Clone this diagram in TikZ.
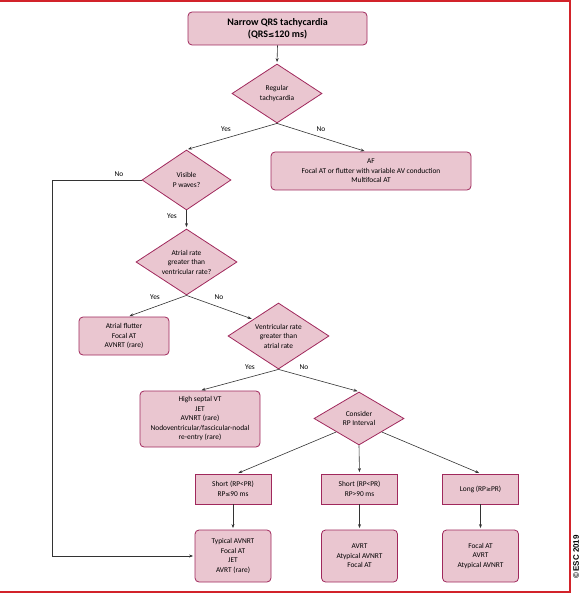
\documentclass[tikz,border=0pt]{standalone}
\usepackage{fontspec}
\setmainfont{Carlito}
\newfontfamily\copyfont{Liberation Sans}
\newfontfamily\symfont{DejaVu Sans}
\usetikzlibrary{shapes.geometric,arrows.meta}
\definecolor{boxfill}{HTML}{EAC6D0}
\definecolor{boxline}{HTML}{A0285C}
\definecolor{framered}{HTML}{D2232A}
\definecolor{arrowgray}{HTML}{333333}
\newcommand{\myle}{{\symfont\fontsize{6}{7}\selectfont ≤}}
\newcommand{\myge}{{\symfont\fontsize{6}{7}\selectfont ≥}}
\tikzset{
  base/.style={draw=boxline, fill=boxfill, line width=0.8pt, align=center,
    font=\fontsize{7.4}{9.5}\selectfont, inner sep=0pt},
  rbox/.style={base, rounded corners=4pt, rectangle},
  sbox/.style={base, rectangle},
  dia/.style={base, diamond, shape aspect=1.5},
  conn/.style={draw=arrowgray, line width=0.6pt, -{Stealth[length=4pt,width=3pt]}, shorten >=1.5pt},
  lbl/.style={font=\fontsize{7.4}{8}\selectfont, inner sep=0pt}
}
\begin{document}
\begin{tikzpicture}[x=1pt,y=-1pt]
\useasboundingbox (0,0) rectangle (581,593);
% frame (top, right, bottom only)
\draw[framered, line width=1.6pt] (0,1) -- (570,1) -- (570,592) -- (0,592);
\node[font=\copyfont\bfseries\fontsize{8}{9}\selectfont, rotate=90, inner sep=0pt] (copy) at (576,557) {\textcopyright\,ESC 2019};

% nodes
\node[rbox, minimum width=179pt, minimum height=33pt, font=\bfseries\fontsize{10}{12}\selectfont] (t) at (277.5,28.5) {Narrow QRS tachycardia\\(QRS{\symfont\fontsize{7.5}{8}\selectfont ≤}120 ms)};
\node[dia, minimum width=90pt, minimum height=59pt] (d1) at (277,93.5) {Regular\\tachycardia};
\node[rbox, minimum width=200pt, minimum height=38pt] (af) at (371,171) {AF\\Focal AT or flutter with variable AV conduction\\Multifocal AT};
\node[dia, minimum width=89pt, minimum height=60pt] (d2) at (186.5,180) {Visible\\P waves?};
\node[dia, minimum width=101pt, minimum height=66pt] (d3) at (186.5,262) {Atrial rate\\greater than\\ventricular rate?};
\node[rbox, minimum width=90pt, minimum height=38pt] (fl) at (124,336) {Atrial flutter\\Focal AT\\AVNRT (rare)};
\node[dia, minimum width=101pt, minimum height=66pt] (d4) at (278.5,336) {Ventricular rate\\greater than\\atrial rate};
\node[rbox, minimum width=120pt, minimum height=56pt] (hs) at (200,419) {High septal VT\\JET\\AVNRT (rare)\\Nodoventricular/fascicular-nodal\\re-entry (rare)};
\node[dia, minimum width=90pt, minimum height=53pt] (d5) at (359,418.5) {Consider\\RP Interval};

\node[sbox, minimum width=76pt, minimum height=30pt] (s1) at (233,489) {Short (RP<PR)\\RP\myle90 ms};
\node[sbox, minimum width=76pt, minimum height=30pt] (s2) at (359.5,489) {Short (RP<PR)\\RP>90 ms};
\node[sbox, minimum width=76pt, minimum height=30pt] (s3) at (480.5,489) {Long (RP\myge PR)};

\node[rbox, minimum width=76pt, minimum height=52pt] (b1) at (233,556) {Typical AVNRT\\Focal AT\\JET\\AVRT (rare)};
\node[rbox, minimum width=76pt, minimum height=52pt] (b2) at (359.5,556) {AVRT\\Atypical AVNRT\\Focal AT};
\node[rbox, minimum width=76pt, minimum height=52pt] (b3) at (480.5,556) {Focal AT\\AVRT\\Atypical AVNRT};

\coordinate (c1) at (52,180);
\coordinate (c2) at (52,556);

% connectors
\draw[conn] (t.south) -- (d1.north);
\draw[conn] (d1.south) -- (d2.north);
\draw[conn] (d1.south) -- ([xshift=-5pt]af.north);
\draw[conn] (d2.west) -- (c1) -- (c2) -- (b1.west);
\draw[conn] (d2.south) -- (d3.north);
\draw[conn] (d3.south) -- ([xshift=4pt]fl.north);
\draw[conn] (d3.south) -- (d4.north west);
\draw[conn] (d4.south) -- (hs.north);
\draw[conn] (d4.south) -- (d5.north);
\draw[conn] (d5.south west) -- ([xshift=4pt]s1.north);
\draw[conn] (d5.south) -- (s2.north);
\draw[conn] (d5.south east) -- (s3.north);
\draw[conn] (s1.south) -- (b1.north);
\draw[conn] (s2.south) -- (b2.north);
\draw[conn] (s3.south) -- (b3.north);

% labels
\node[lbl] (l1) at (226,129) {Yes};
\node[lbl] (l2) at (321,129) {No};
\node[lbl] (l3) at (119,174) {No};
\node[lbl] (l4) at (172,216) {Yes};
\node[lbl] (l5) at (155,297) {Yes};
\node[lbl] (l6) at (219,297) {No};
\node[lbl] (l7) at (250,367) {Yes};
\node[lbl] (l8) at (304,367) {No};
\end{tikzpicture}
\end{document}
